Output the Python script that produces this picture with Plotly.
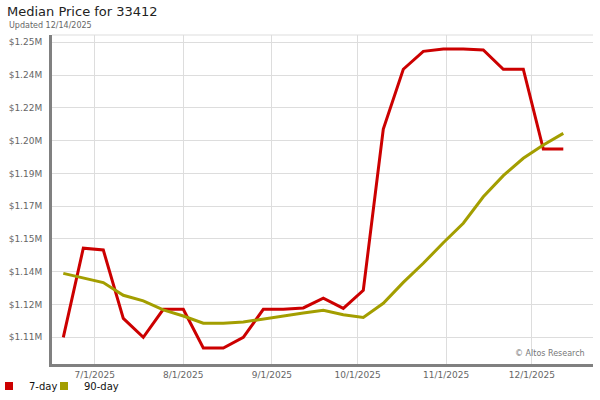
import plotly.graph_objects as go

dates = ["2025-06-20", "2025-06-27", "2025-07-04", "2025-07-11", "2025-07-18", "2025-07-25",
         "2025-08-01", "2025-08-08", "2025-08-15", "2025-08-22", "2025-08-29", "2025-09-05",
         "2025-09-12", "2025-09-19", "2025-09-26", "2025-10-03", "2025-10-10", "2025-10-17",
         "2025-10-24", "2025-10-31", "2025-11-07", "2025-11-14", "2025-11-21", "2025-11-28",
         "2025-12-05", "2025-12-12"]

price_7day = [1105500, 1149800, 1148900, 1114900, 1105500, 1119400, 1119400, 1100200,
              1100200, 1105500, 1119400, 1119400, 1120100, 1125000, 1119900, 1128900,
              1209100, 1238800, 1247700, 1248900, 1248900, 1248400, 1238800, 1238800,
              1199100, 1199100]

price_90day = [1137300, 1135100, 1132700, 1126400, 1123600, 1119100, 1116100, 1112500,
               1112500, 1113100, 1114700, 1116200, 1117600, 1118900, 1116700, 1115400,
               1122400, 1132800, 1142300, 1152500, 1162200, 1175400, 1185900, 1194500,
               1201100, 1206900]

y_tickvals = [1105500, 1121800, 1138100, 1154400, 1170700, 1187000, 1203300, 1219600,
              1235900, 1252200]
y_ticktext = ["$1.11M", "$1.12M", "$1.14M", "$1.15M", "$1.17M", "$1.19M", "$1.20M",
              "$1.22M", "$1.24M", "$1.25M"]

RED = "#cc0000"
OLIVE = "#a39e00"
FONT = "DejaVu Sans"

fig = go.Figure()
fig.add_trace(go.Scatter(x=dates, y=price_7day, mode="lines", name="7-day",
                         line=dict(color=RED, width=3), showlegend=False,
                         legendgroup="7"))
fig.add_trace(go.Scatter(x=dates, y=price_90day, mode="lines", name="90-day",
                         line=dict(color=OLIVE, width=3), showlegend=False,
                         legendgroup="90"))
# legend entries with square swatches
fig.add_trace(go.Scatter(x=[None], y=[None], mode="markers", name="7-day",
                         marker=dict(symbol="square", size=8, color=RED),
                         legendgroup="7", legend="legend"))
fig.add_trace(go.Scatter(x=[None], y=[None], mode="markers", name="90-day",
                         marker=dict(symbol="square", size=8, color=OLIVE),
                         legendgroup="90", legend="legend2"))

legend_common = dict(orientation="h", xanchor="left", xref="paper",
                     y=14/400, yref="container", yanchor="middle",
                     font=dict(family=FONT, size=10, color="#111111"),
                     itemwidth=30, bgcolor="rgba(0,0,0,0)")

fig.update_layout(
    width=600, height=400,
    margin=dict(l=52, r=7, t=35, b=36, autoexpand=False),
    paper_bgcolor="white", plot_bgcolor="white",
    font=dict(family=FONT, size=9, color="#666666"),
    title=dict(text="Median Price for 33412", x=7/600, xanchor="left", xref="container",
               y=1 - 11/400, yref="container", yanchor="middle",
               font=dict(family=FONT, size=13, color="#222222")),
    showlegend=True,
    legend=dict(x=(-11 - 52) / 541, **legend_common),
    legend2=dict(x=(44 - 52) / 541, **legend_common),
    xaxis=dict(
        type="date",
        range=["2025-06-16 01:05", "2025-12-22 09:29"],
        tick0="2025-07-01", dtick="M1", tickformat="%-m/%-d/%Y",
        showgrid=True, gridcolor="#dddddd", gridwidth=1,
        showline=True, linecolor="#808080", linewidth=3,
        ticks="",
        tickfont=dict(family=FONT, size=9, color="#666666"),
        zeroline=False, fixedrange=True,
    ),
    yaxis=dict(
        range=[1092223, 1255820],
        tickvals=y_tickvals, ticktext=y_ticktext,
        showgrid=True, gridcolor="#dddddd", gridwidth=1,
        showline=True, linecolor="#808080", linewidth=3,
        ticks="outside", ticklen=5, tickcolor="rgba(0,0,0,0)",
        tickfont=dict(family=FONT, size=9, color="#666666"),
        zeroline=False, fixedrange=True,
    ),
    shapes=[dict(type="line", xref="paper", yref="paper", x0=0, x1=1, y0=1, y1=1,
                 line=dict(color="#dddddd", width=1))],
    annotations=[
        dict(text="Updated 12/14/2025", xref="paper", yref="paper",
             x=(7 - 52) / 541, y=(364 - 25) / 329, xanchor="left", yanchor="middle",
             showarrow=False, font=dict(family=FONT, size=8, color="#666666")),
        dict(text="© Altos Research", xref="paper", yref="paper",
             x=(587 - 52) / 541, y=(364 - 353) / 329, xanchor="right", yanchor="middle",
             showarrow=False, font=dict(family=FONT, size=8, color="#777777")),
    ],
)

fig.write_html("out.html", config={"displayModeBar": False},
               post_script="document.body.style.margin='0';")
